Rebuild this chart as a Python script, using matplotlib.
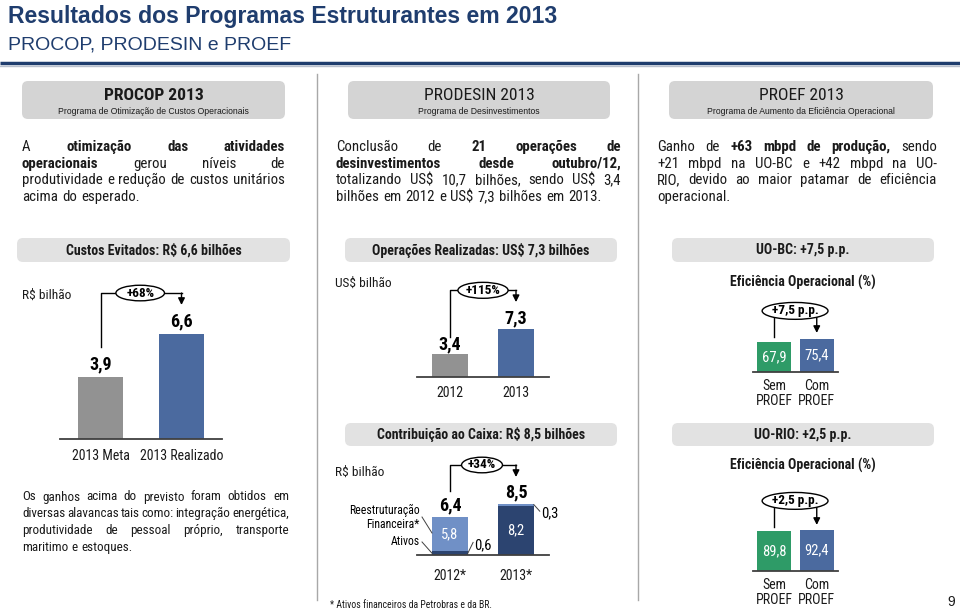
import matplotlib
matplotlib.use('Agg')
import matplotlib.pyplot as plt
from matplotlib import font_manager
from matplotlib.patches import FancyBboxPatch, Ellipse

# ---- data ----
procop_cats = ['2013 Meta', '2013 Realizado']
procop_vals = [3.9, 6.6]
procop_delta = '+68%'

prodesin_cats = ['2012', '2013']
prodesin_vals = [3.4, 7.3]
prodesin_delta = '+115%'

caixa_cats = ['2012*', '2013*']
caixa_ativos = [0.6, 8.2]
caixa_reestr = [5.8, 0.3]
caixa_delta = '+34%'

proef_cats = ['Sem\nPROEF', 'Com\nPROEF']
uobc_vals = [67.9, 75.4]
uobc_delta = '+7,5 p.p.'
uorio_vals = [89.8, 92.4]
uorio_delta = '+2,5 p.p.'

# ---- style ----
W, H = 960, 612
NAVY = '#1F3D6E'
GRAY_BAR = '#929292'
BLUE = '#4B6A9F'
GREEN = '#2E9B67'
LIGHT_BLUE = '#7090C6'
DARK_NAVY = '#2C4470'
HDR_BOX = '#D4D4D4'
SEC_BOX = '#E2E2E2'
TXT = '#1A1A1A'
SANS = ['Liberation Sans', 'DejaVu Sans']

# condensed face if one is installed, otherwise Liberation Sans a bit smaller
installed = {f.name for f in font_manager.fontManager.ttflist}
NARROW, NS = ['Liberation Sans', 'DejaVu Sans'], 0.86
for cand in ['Liberation Sans Narrow', 'Roboto Condensed', 'Arial Narrow']:
    if cand in installed:
        NARROW, NS = [cand, 'DejaVu Sans'], 1.0
        break


def fmt(v):
    return f'{v:.1f}'.replace('.', ',')


fig = plt.figure(figsize=(W / 100, H / 100), dpi=100)
bg = fig.add_axes([0, 0, 1, 1])
bg.set_xlim(0, W)
bg.set_ylim(H, 0)
bg.axis('off')
renderer = fig.canvas.get_renderer()


def box(x0, x1, y0, y1, color):
    bg.add_patch(FancyBboxPatch((x0, y0), x1 - x0, y1 - y0,
                                boxstyle='round,pad=0,rounding_size=6',
                                facecolor=color, edgecolor='none'))


def para(lines, x0, x1, y0, dy, size):
    # justified paragraph, words starting with * are bold
    size = size * NS
    for i, line in enumerate(lines):
        y = y0 + i * dy
        texts = []
        for tok in line.split(' '):
            bold = tok.startswith('*')
            texts.append(bg.text(0, y, tok.lstrip('*').replace('$', r'\$'),
                                 fontsize=size, family=NARROW, color=TXT,
                                 fontweight='bold' if bold else 'normal',
                                 va='center', ha='left'))
        ws = [t.get_window_extent(renderer).width for t in texts]
        if i == len(lines) - 1 or len(texts) == 1:
            gap = size * 0.38
        else:
            gap = (x1 - x0 - sum(ws)) / (len(texts) - 1)
        x = x0
        for t, w in zip(texts, ws):
            t.set_x(x)
            x += w + gap


def panel(x0, x1, ytop, ybase, ymax, cats, pad):
    ax = fig.add_axes([x0 / W, 1 - ybase / H, (x1 - x0) / W, (ybase - ytop) / H])
    ax.set_xlim(-0.5, 1.5)
    ax.set_ylim(0, ymax)
    for s in ['top', 'right', 'left']:
        ax.spines[s].set_visible(False)
    ax.spines['bottom'].set_color('#404040')
    ax.spines['bottom'].set_linewidth(1.3)
    ax.set_yticks([])
    ax.set_xticks([0, 1])
    ax.set_xticklabels(cats, fontsize=10 * NS, family=NARROW, color=TXT, linespacing=1.1)
    ax.tick_params(axis='x', length=0, pad=pad)
    ax.patch.set_alpha(0)
    return ax


def bracket(ax, y_start, y_e, y_end, label, ex, ew, eh, fs=9.5):
    ax.plot([0, 0, 1], [y_start, y_e, y_e], color='black', lw=1, clip_on=False, zorder=3)
    ax.annotate('', xy=(1, y_end), xytext=(1, y_e), annotation_clip=False, zorder=3,
                arrowprops=dict(arrowstyle='-|>', color='black', lw=1,
                                mutation_scale=10, shrinkA=0, shrinkB=0))
    ax.add_patch(Ellipse((ex, y_e), ew, eh, facecolor='white', edgecolor='black',
                         lw=1, zorder=4, clip_on=False))
    ax.text(ex, y_e, label, ha='center', va='center', fontsize=fs * NS,
            fontweight='bold', family=NARROW, zorder=5)


# ---- header ----
bg.text(8, 16, 'Resultados dos Programas Estruturantes em 2013', fontsize=16.6,
        fontweight='bold', color=NAVY, family=SANS, va='center')
bg.text(8, 45, 'PROCOP, PRODESIN e PROEF', fontsize=14, color=NAVY, family=SANS, va='center')
bg.plot([0, W], [63, 63], color=NAVY, lw=2.5, solid_capstyle='butt')
bg.plot([0, W], [65.5, 65.5], color='#B8BFCC', lw=1)

for x in [317, 638]:
    bg.plot([x, x], [74, 600], color='#A8A8A8', lw=1)

# program boxes
progs = [
    (22, 285, 'PROCOP 2013', 'Programa de Otimização de Custos Operacionais', 'bold'),
    (348, 610, 'PRODESIN 2013', 'Programa de Desinvestimentos', 'normal'),
    (669, 933, 'PROEF 2013', 'Programa de Aumento da Eficiência Operacional', 'normal'),
]
for x0, x1, t, sub, wt in progs:
    box(x0, x1, 81, 119, HDR_BOX)
    bg.text((x0 + x1) / 2, 95, t, fontsize=12.6 * NS, fontweight=wt, family=NARROW,
            ha='center', va='center', color=TXT)
    bg.text((x0 + x1) / 2, 112, sub, fontsize=6.2, family=SANS,
            ha='center', va='center', color=TXT)

para(['A *otimização *das *atividades',
      '*operacionais gerou níveis de',
      'produtividade e redução de custos unitários',
      'acima do esperado.'], 22, 285, 147, 16.7, 10.7)
para(['Conclusão de *21 *operações *de',
      '*desinvestimentos *desde *outubro/12,',
      'totalizando US$ 10,7 bilhões, sendo US$ 3,4',
      'bilhões em 2012 e US$ 7,3 bilhões em 2013.'], 336, 621, 147, 16.7, 10.7)
para(['Ganho de *+63 *mbpd *de *produção, sendo',
      '+21 mbpd na UO-BC e +42 mbpd na UO-',
      'RIO, devido ao maior patamar de eficiência',
      'operacional.'], 657, 937, 147, 16.7, 10.7)
para(['Os ganhos acima do previsto foram obtidos em',
      'diversas alavancas tais como: integração energética,',
      'produtividade de pessoal próprio, transporte',
      'maritimo e estoques.'], 22, 289, 497, 16.7, 9.4)

# section boxes
secs = [
    (17, 290, 238, 262, 'Custos Evitados: R$ 6,6 bilhões'),
    (345, 617, 238, 262, 'Operações Realizadas: US$ 7,3 bilhões'),
    (672, 934, 238, 262, 'UO-BC: +7,5 p.p.'),
    (345, 617, 423, 446, 'Contribuição ao Caixa: R$ 8,5 bilhões'),
    (672, 934, 423, 446, 'UO-RIO: +2,5 p.p.'),
]
for x0, x1, y0, y1, t in secs:
    box(x0, x1, y0, y1, SEC_BOX)
    bg.text((x0 + x1) / 2, (y0 + y1) / 2, t.replace('$', r'\$'), fontsize=10 * NS,
            fontweight='bold', family=NARROW, ha='center', va='center', color=TXT)

bg.text(22, 295, 'R\\$ bilhão', fontsize=9.6 * NS, family=NARROW, va='center', color=TXT)
bg.text(335, 283, 'US\\$ bilhão', fontsize=9.6 * NS, family=NARROW, va='center', color=TXT)
bg.text(335, 472, 'R\\$ bilhão', fontsize=9.6 * NS, family=NARROW, va='center', color=TXT)
for y in [282, 465]:
    bg.text(803, y, 'Eficiência Operacional (%)', fontsize=10 * NS, fontweight='bold',
            family=NARROW, ha='center', va='center', color=TXT)
bg.text(330, 605, '* Ativos financeiros da Petrobras e da BR.', fontsize=7 * NS,
        family=NARROW, va='center', color=TXT)
bg.text(955, 602, '9', fontsize=10, family=SANS, ha='right', va='center', color=TXT)

# ---- PROCOP chart ----
ax1 = panel(60, 222, 280, 439, 10.0, procop_cats, 7)
ax1.bar([0, 1], procop_vals, width=0.56, color=[GRAY_BAR, BLUE])
for i, v in enumerate(procop_vals):
    ax1.annotate(fmt(v), (i, v), xytext=(0, 9), textcoords='offset points',
                 ha='center', va='center', fontsize=13 * NS, fontweight='bold', family=NARROW)
bracket(ax1, 5.8, 9.18, 8.43, procop_delta, 0.49, 0.6, 0.98)

# ---- PRODESIN chart ----
ax2 = panel(417, 549, 272, 376.7, 16.0, prodesin_cats, 7)
ax2.bar([0, 1], prodesin_vals, width=0.545, color=[GRAY_BAR, BLUE])
for i, v in enumerate(prodesin_vals):
    ax2.annotate(fmt(v), (i, v), xytext=(0, 7.5), textcoords='offset points',
                 ha='center', va='center', fontsize=13 * NS, fontweight='bold', family=NARROW)
bracket(ax2, 6.1, 13.2, 11.4, prodesin_delta, 0.5, 0.76, 2.44)

# ---- Contribuicao ao Caixa chart ----
ax5 = panel(417, 549, 459, 555, 16.0, caixa_cats, 10)
ax5.bar([0, 1], caixa_ativos, width=0.545, color=DARK_NAVY)
ax5.bar([0, 1], caixa_reestr, bottom=caixa_ativos, width=0.545,
        color=[LIGHT_BLUE, LIGHT_BLUE])
totals = [a + b for a, b in zip(caixa_ativos, caixa_reestr)]
for i, v in enumerate(totals):
    ax5.annotate(fmt(v), (i, v), xytext=(0, 8), textcoords='offset points',
                 ha='center', va='center', fontsize=13 * NS, fontweight='bold', family=NARROW)
ax5.text(0, caixa_ativos[0] + caixa_reestr[0] / 2, fmt(caixa_reestr[0]), ha='center',
         va='center', color='white', fontsize=10.5 * NS, family=NARROW)
ax5.text(1, caixa_ativos[1] / 2, fmt(caixa_ativos[1]), ha='center',
         va='center', color='white', fontsize=10.5 * NS, family=NARROW)
# small segment callouts
ax5.plot([0.27, 0.35], [caixa_ativos[0] / 2, 2.1], color='#404040', lw=0.7, clip_on=False)
ax5.text(0.37, 1.6, fmt(caixa_ativos[0]), ha='left', va='center',
         fontsize=10.5 * NS, family=NARROW)
ax5.plot([1.27, 1.36], [totals[1] - 0.1, 7.3], color='#404040', lw=0.7, clip_on=False)
ax5.text(1.38, 6.9, fmt(caixa_reestr[1]), ha='left', va='center',
         fontsize=10.5 * NS, family=NARROW)
ax5.text(-0.46, 6.3, 'Reestruturação\nFinanceira*', ha='right', va='center',
         multialignment='right', fontsize=8.5 * NS, family=NARROW, linespacing=1.15)
ax5.plot([-0.424, -0.273], [6.33, 3.67], color='#404040', lw=0.7, clip_on=False)
ax5.text(-0.46, 2.2, 'Ativos', ha='right', va='center', fontsize=8.5 * NS, family=NARROW)
ax5.plot([-0.424, -0.273], [2.17, caixa_ativos[0] / 2], color='#404040', lw=0.7, clip_on=False)
bracket(ax5, 10.7, 15.0, 13.0, caixa_delta, 0.485, 0.62, 2.6)

# ---- PROEF charts ----
for vals, delta, ytop, ybase, y_s, y_e, y_a in [
        (uobc_vals, uobc_delta, 301, 372, 79, 137.7, 88),
        (uorio_vals, uorio_delta, 500, 571, 99.3, 158, 103.8)]:
    ax = panel(753, 838, ytop, ybase, 160, proef_cats, 5)
    ax.bar([0, 1], vals, width=0.8, color=[GREEN, BLUE])
    for i, v in enumerate(vals):
        ax.text(i, v / 2, fmt(v), ha='center', va='center', color='white',
                fontsize=10.5 * NS, family=NARROW)
    bracket(ax, y_s, y_e, y_a, delta, 0.49, 1.55, 38)

fig.savefig('out.png', dpi=100)
